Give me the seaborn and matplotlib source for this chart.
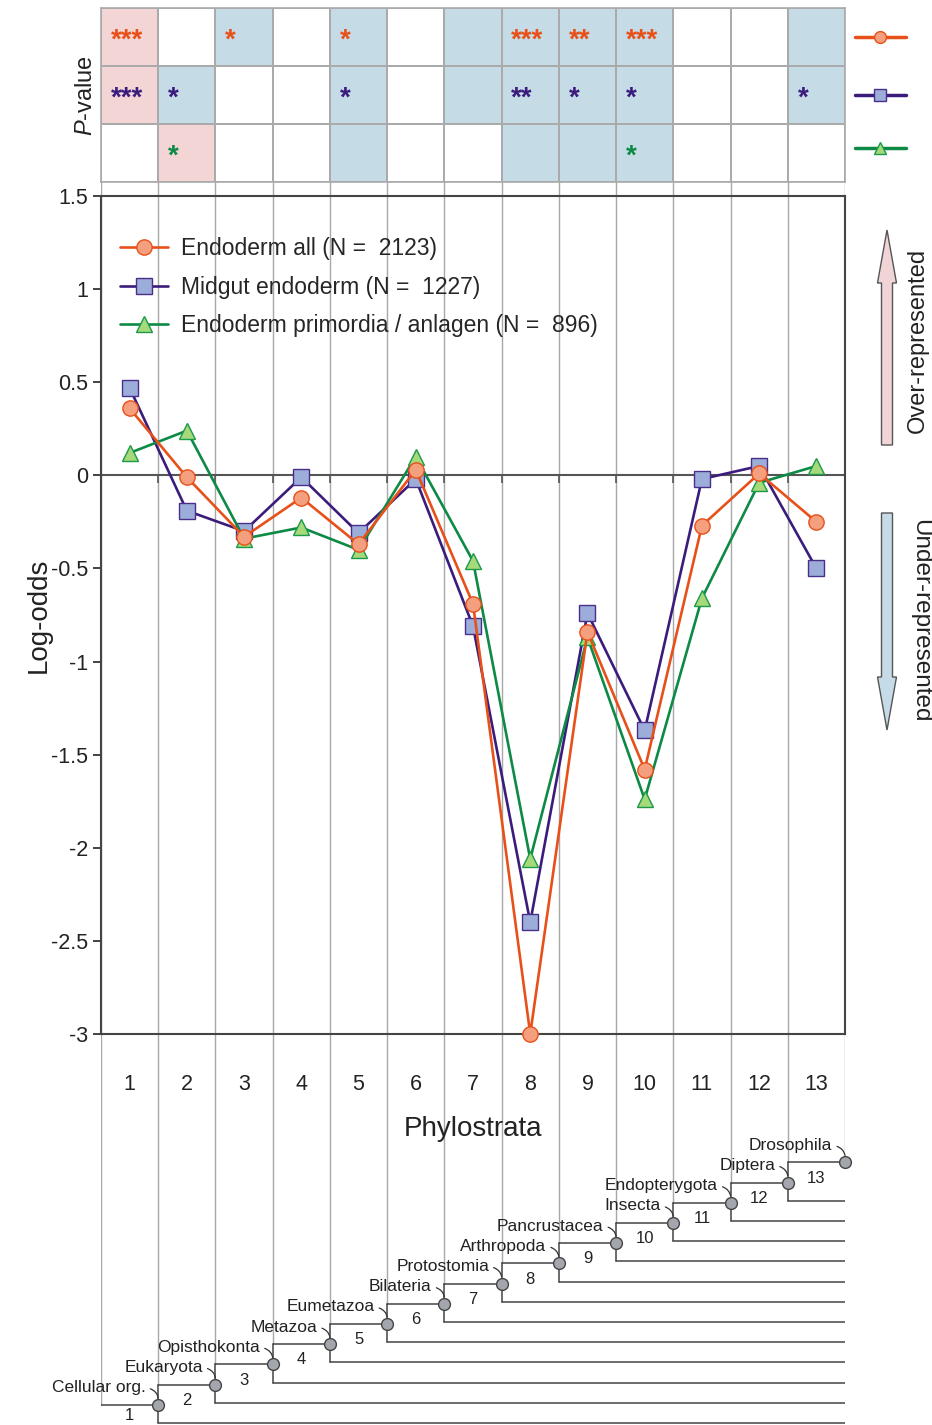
import numpy as np
import pandas as pd
import matplotlib
matplotlib.use('Agg')
import matplotlib.pyplot as plt
from matplotlib.colors import ListedColormap
from matplotlib.patches import FancyArrow
import seaborn as sns

# ---- data ----
phylostrata = list(range(1, 14))
endoderm_all = [0.36, -0.01, -0.33, -0.12, -0.37, 0.03, -0.69, -3.00, -0.84, -1.58, -0.27, 0.01, -0.25]
midgut = [0.47, -0.19, -0.30, -0.01, -0.31, -0.02, -0.81, -2.40, -0.74, -1.37, -0.02, 0.05, -0.50]
primordia = [0.12, 0.24, -0.34, -0.28, -0.40, 0.10, -0.46, -2.06, -0.87, -1.74, -0.66, -0.04, 0.05]

series_labels = ['Endoderm all (N =  2123)',
                 'Midgut endoderm (N =  1227)',
                 'Endoderm primordia / anlagen (N =  896)']

# p-value cells: 0 = n.s., 1 = over-represented, 2 = under-represented
pv_state = [[1, 0, 2, 0, 2, 0, 2, 2, 2, 2, 0, 0, 2],
            [1, 2, 0, 0, 2, 0, 2, 2, 2, 2, 0, 0, 2],
            [0, 1, 0, 0, 2, 0, 0, 2, 2, 2, 0, 0, 0]]
pv_stars = [['***', '', '*', '', '*', '', '', '***', '**', '***', '', '', ''],
            ['***', '*', '', '', '*', '', '', '**', '*', '*', '', '', '*'],
            ['', '*', '', '', '', '', '', '', '', '*', '', '', '']]

clades = ['Cellular org.', 'Eukaryota', 'Opisthokonta', 'Metazoa', 'Eumetazoa',
          'Bilateria', 'Protostomia', 'Arthropoda', 'Pancrustacea', 'Insecta',
          'Endopterygota', 'Diptera', 'Drosophila']

yticks = [1.5, 1, 0.5, 0, -0.5, -1, -1.5, -2, -2.5, -3]

# ---- styles ----
line_cols = ['#e8501a', '#3b1c7c', '#0d8a45']
face_cols = ['#f4a07e', '#9badd8', '#a5d97a']
edge_cols = ['#e8501a', '#4b2e8a', '#1a9a4a']
markers = ['o', 's', '^']
txt = '#222222'

sns.set_theme(style='white')
plt.rcParams['font.family'] = ['Liberation Sans', 'DejaVu Sans']
plt.rcParams['axes.unicode_minus'] = False
plt.rcParams['mathtext.fontset'] = 'custom'
plt.rcParams['mathtext.it'] = 'Liberation Sans:italic'
plt.rcParams['mathtext.rm'] = 'Liberation Sans'

W, H = 932, 1425
fig = plt.figure(figsize=(W / 100, H / 100), dpi=100)
left, right = 101, 845
fx = left / W
fw = (right - left) / W

# background axes: column grid lines + phylogeny (y in "level" units, 20.2 px each)
step = 20.2
bg = fig.add_axes([fx, 0, fw, (H - 8) / H])
bg.set_xlim(0.5, 13.5)
bg.set_ylim(0, (H - 8) / step)
bg.axis('off')
top_level = (H - 8) / step
grid_col = '#a8a8a8'
tree_col = '#444444'
for b in range(0, 14):
    end = 1 if b == 0 else min(b + 1, 13)
    bg.plot([b + 0.5, b + 0.5], [top_level, end], color=grid_col, lw=1.0, zorder=1)

bg.plot([0.5, 1.5], [1, 1], color=tree_col, lw=1.1, zorder=2)
for k in range(1, 14):
    x = k + 0.5
    if k < 13:
        bg.plot([x, x], [k - 0.9, k + 1], color=tree_col, lw=1.1, zorder=2)
        bg.plot([x, x + 1], [k + 1, k + 1], color=tree_col, lw=1.1, zorder=2)
        bg.plot([x, 13.5], [k - 0.9, k - 0.9], color=tree_col, lw=1.1, zorder=2)
    bg.plot(x, k, 'o', ms=8.5, mfc='#a3a6ad', mec='#444444', mew=1, zorder=3, clip_on=False)
    bg.text(k, k - (0.55 if k == 1 else 0.78), str(k), ha='center', va='center',
            fontsize=12, color=txt)
    bg.annotate(clades[k - 1], xy=(x, k), xytext=(x - 0.22, k + 0.85),
                ha='right', va='center', fontsize=12.5, color=txt,
                arrowprops=dict(arrowstyle='-', connectionstyle='arc3,rad=-0.5',
                                shrinkA=1, shrinkB=5, lw=0.9, color='#333333',
                                relpos=(1, 0.5)))

# ---- main log-odds panel ----
ax = fig.add_axes([fx, (H - 1034) / H, fw, (1034 - 196) / H])
ax.set_facecolor('none')
df = pd.DataFrame({'ps': phylostrata * 3,
                   'logodds': endoderm_all + midgut + primordia,
                   'set': np.repeat(series_labels, 13)})

for i in [1, 2, 0]:
    sns.lineplot(data=df[df['set'] == series_labels[i]], x='ps', y='logodds', ax=ax,
                 color=line_cols[i], lw=1.9, marker=markers[i], ms=11,
                 markerfacecolor=face_cols[i], markeredgecolor=edge_cols[i],
                 markeredgewidth=1.0, errorbar=None, label=series_labels[i],
                 clip_on=False, zorder=3 + (i == 0))

ax.axhline(0, color='#555555', lw=1.5, zorder=2)
ax.vlines(np.arange(1.5, 13.5), -0.04, 0, color='#555555', lw=1.2, zorder=2)
ax.set_xlim(0.5, 13.5)
ax.set_ylim(-3, 1.5)
ax.set_yticks(yticks, labels=[f'{v:g}' for v in yticks])
ax.set_xticks(phylostrata, labels=[str(p) for p in phylostrata])
ax.tick_params(axis='x', length=0, pad=29, labelsize=15.5, colors=txt)
ax.tick_params(axis='y', direction='out', length=6, width=1.2, pad=3, labelsize=15.5,
               left=True, colors=txt)
for s in ax.spines.values():
    s.set_color('#444444')
    s.set_linewidth(1.5)
ax.set_xlabel('Phylostrata', fontsize=20, labelpad=15, color=txt)
ax.set_ylabel('Log-odds', fontsize=20, labelpad=0, color=txt)

h, l = ax.get_legend_handles_labels()
order = [l.index(s) for s in series_labels]
ax.legend([h[o] for o in order], series_labels, loc='upper left',
          bbox_to_anchor=(19 / 744, 1 - 41 / 838), borderaxespad=0, borderpad=0,
          frameon=False, fontsize=16.5, handlelength=2.1, handletextpad=0.55,
          labelspacing=0.68)

# ---- p-value grid ----
pax = fig.add_axes([fx, (H - 182) / H, fw, 174 / H])
sns.heatmap(np.array(pv_state), ax=pax, cmap=ListedColormap(['#ffffff', '#f3d5d5', '#c5dbe6']),
            vmin=-0.5, vmax=2.5, cbar=False, linewidths=1.1, linecolor='#aaaaaa',
            annot=np.array(pv_stars), fmt='', annot_kws={'fontsize': 20, 'fontweight': 'bold'},
            xticklabels=False, yticklabels=False)
for t in pax.texts:
    tx, ty = t.get_position()
    row = int(ty)
    t.set_position((int(tx) + 0.17, row + 0.56))
    t.set_ha('left')
    t.set_color(line_cols[row])
for s in pax.spines.values():
    s.set_visible(True)
    s.set_color('#aaaaaa')
    s.set_linewidth(1.2)
pax.set_ylabel('$\\it{P}$-value', fontsize=17, labelpad=3, color=txt)
for i, yy in enumerate([0.5, 1.5, 2.42]):
    pax.plot([13.18, 14.06], [yy, yy], color=line_cols[i], lw=2.5, clip_on=False)
    pax.plot(13.62, yy, marker=markers[i], ms=8.5, mfc=face_cols[i], mec=edge_cols[i],
             mew=1, clip_on=False)

# ---- over / under arrows ----
ov = fig.add_axes([0, 0, 1, 1])
ov.set_xlim(0, W)
ov.set_ylim(H, 0)
ov.axis('off')
ov.add_patch(FancyArrow(887, 445, 0, -215, width=11, head_width=19, head_length=53,
                        length_includes_head=True, fc='#f0d4d6', ec='#555555', lw=1))
ov.add_patch(FancyArrow(887, 513, 0, 217, width=11, head_width=19, head_length=53,
                        length_includes_head=True, fc='#c5dbe7', ec='#555555', lw=1))
ov.text(918, 340, 'Over-represented', rotation=90, ha='center', va='center',
        fontsize=17, color=txt)
ov.text(920, 621, 'Under-represented', rotation=270, ha='center', va='center',
        fontsize=17.5, color=txt)

fig.savefig('out.png', dpi=100)
